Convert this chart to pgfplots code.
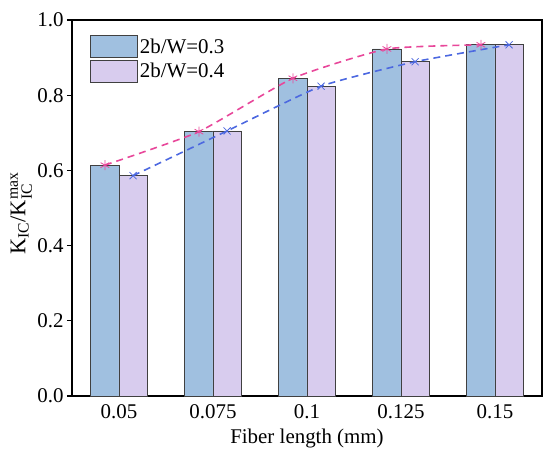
\documentclass[border=0pt]{standalone}
\usepackage{pgfplots}
\pgfplotsset{compat=1.18}
\usepackage{amsmath}
\usepackage{fontspec}
\setmainfont{Liberation Serif}
\definecolor{barblue}{HTML}{A0C0E0}
\definecolor{barpurple}{HTML}{D8CCEE}
\definecolor{lnpink}{HTML}{E8479A}
\definecolor{lnblue}{HTML}{4C68E0}
\definecolor{edge}{HTML}{404040}
\begin{document}
\begin{tikzpicture}
\path[use as bounding box] (-72bp,-59bp) rectangle (478bp,396bp);
\begin{axis}[
  scale only axis,
  width=470bp, height=376bp,
  xmin=-0.5, xmax=4.5,
  ymin=0, ymax=1.0,
  xtick={0,1,2,3,4},
  xticklabels={0.05,0.075,0.1,0.125,0.15},
  x tick style={draw=none},
  ytick={0,0.2,0.4,0.6,0.8,1.0},
  ytick pos=left,
  tick align=outside,
  major tick length=5bp,
  y tick label style={/pgf/number format/.cd,fixed,fixed zerofill,precision=1},
  /pgf/number format/assume math mode=true,
  tick label style={font=\fontsize{21}{25}\selectfont},
  xlabel style={font=\fontsize{21}{25}\selectfont, yshift=-3bp},
  ylabel style={font=\fontsize{22.5}{27}\selectfont, at={(axis description cs:-0.108,0.485)}, anchor=center},
  axis line style={line width=1.1pt},
  every tick/.style={line width=1.1pt, black},
  xlabel={Fiber length (mm)},
  ylabel={K$_{\text{IC}}$/K$_{\text{IC}}^{\text{max}}$},
  legend style={draw=none, fill=none, at={(0.032,0.965)}, anchor=north west,
    font=\fontsize{21}{25}\selectfont, row sep=2bp,
    /tikz/every even column/.append style={column sep=4bp}},
  legend cell align=left,
  legend image code/.code={\draw[#1] (0bp,-11bp) rectangle (47bp,11bp);},
]
\addplot[ybar, bar width=0.3, bar shift=0pt, fill=barblue, draw=edge, line width=0.7pt]
  coordinates {(-0.15,0.614) (0.85,0.703) (1.85,0.845) (2.85,0.923) (3.85,0.934)};
\addlegendentry{2b/W=0.3}
\addplot[ybar, bar width=0.3, bar shift=0pt, fill=barpurple, draw=edge, line width=0.7pt]
  coordinates {(0.15,0.586) (1.15,0.705) (2.15,0.824) (3.15,0.889) (4.15,0.934)};
\addlegendentry{2b/W=0.4}
\addplot[forget plot, color=lnpink, line width=1.6pt, dash pattern=on 7bp off 5bp, smooth, tension=0.3,
  mark=asterisk, mark size=5bp, mark options={solid, line width=0.8pt}]
  coordinates {(-0.15,0.614) (0.85,0.703) (1.85,0.845) (2.85,0.923) (3.85,0.934)};
\addplot[forget plot, color=lnblue, line width=1.6pt, dash pattern=on 7bp off 5bp, smooth, tension=0.3,
  mark=x, mark size=5bp, mark options={solid, line width=0.8pt}]
  coordinates {(0.15,0.586) (1.15,0.705) (2.15,0.824) (3.15,0.889) (4.15,0.934)};
\end{axis}
\end{tikzpicture}
\end{document}
